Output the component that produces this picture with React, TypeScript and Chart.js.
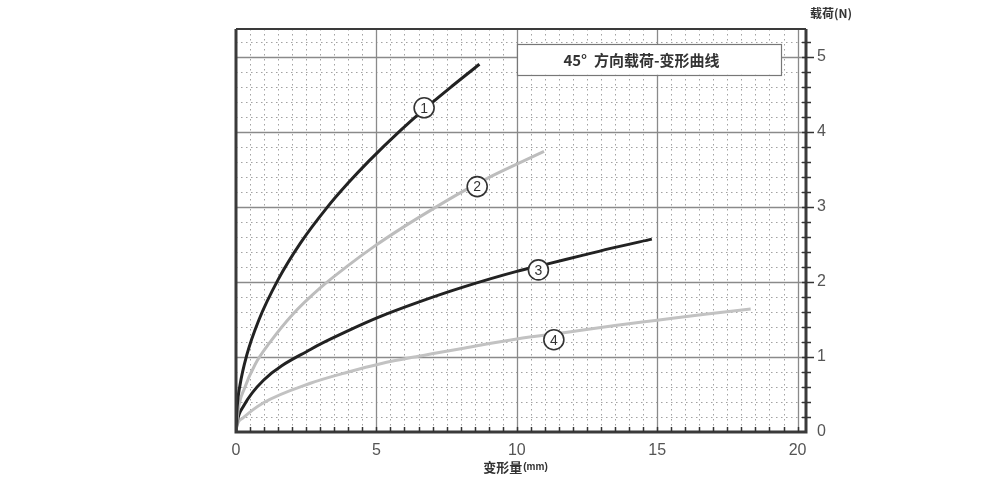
import React, { useEffect, useRef } from 'react';
import { Chart, registerables } from 'chart.js';

Chart.register(...registerables);

// ---- data ----
const curve1X = [0, 0.04, 0.14, 0.38, 0.8, 1.5, 2.3, 3.24, 4.0, 4.73, 5.86, 6.7, 7.7, 8.67];
const curve1Y = [0, 0.33, 0.62, 1.02, 1.48, 2.03, 2.52, 2.99, 3.32, 3.61, 4.02, 4.3, 4.61, 4.9];

const curve2X = [0, 0.08, 0.3, 0.68, 1.2, 2.0, 3.0, 4.0, 4.91, 6.0, 7.0, 8.0, 9.0, 10.0, 10.97];
const curve2Y = [0, 0.3, 0.58, 0.9, 1.19, 1.56, 1.92, 2.22, 2.47, 2.74, 2.97, 3.19, 3.39, 3.57, 3.74];

const curve3X = [0, 0.05, 0.26, 0.98, 2.65, 4.0, 5.15, 6.5, 8.0, 10.0, 11.0, 12.3, 13.5, 14.81];
const curve3Y = [0, 0.15, 0.34, 0.69, 1.1, 1.35, 1.54, 1.73, 1.92, 2.14, 2.23, 2.35, 2.46, 2.57];

const curve4X = [0, 0.03, 0.26, 0.98, 2.65, 4.0, 5.15, 6.5, 8.0, 10.0, 11.8, 13.5, 15.0, 16.7, 18.33];
const curve4Y = [0, 0.08, 0.19, 0.39, 0.65, 0.8, 0.91, 1.01, 1.11, 1.24, 1.33, 1.42, 1.49, 1.57, 1.64];

const markerLabels = ['1', '2', '3', '4'];
const markerX = [6.7, 8.59, 10.77, 11.32];
const markerY = [4.32, 3.27, 2.16, 1.23];

const xTickValues = [0, 5, 10, 15, 20];
const xTickLabels = ['0', '5', '10', '15', '20'];
const yTickValues = [0, 1, 2, 3, 4, 5];
const yTickLabels = ['0', '1', '2', '3', '4', '5'];

const xAxisTitleMain = '变形量';
const xAxisTitleUnit = '(mm)';
const yAxisTitle = '载荷(N)';
const chartTitle = '45°  方向载荷-变形曲线';

// title box corners in data units
const titleBoxX = [10.02, 19.43];
const titleBoxY = [5.17, 4.76];

const X_MAX = 20.3;
const Y_MAX = 5.37;
const X_MINOR = 0.5;
const Y_MINOR = 0.2;

const FONT = '"Liberation Sans", "Noto Sans CJK SC", sans-serif';
const CJK = '"Noto Sans CJK SC", "Liberation Sans", sans-serif';

const toPts = (xs: number[], ys: number[]) => xs.map((x, i) => ({ x, y: ys[i] }));

const snap = (v: number) => Math.round(v) + 0.5;

const paperPlugin = {
  id: 'paper',
  beforeDatasetsDraw(chart: any) {
    const { ctx, chartArea: a, scales } = chart;
    const x = scales.x;
    const y = scales.y;
    ctx.save();
    // minor dotted grid
    ctx.strokeStyle = 'rgba(70,70,70,0.5)';
    ctx.lineWidth = 1;
    ctx.setLineDash([1.5, 3.5]);
    const nx = Math.floor(X_MAX / X_MINOR + 1e-6);
    for (let i = 1; i <= nx; i++) {
      const v = i * X_MINOR;
      if (Math.abs(v / 5 - Math.round(v / 5)) < 1e-6) continue;
      const px = snap(x.getPixelForValue(v));
      ctx.beginPath();
      ctx.moveTo(px, a.top);
      ctx.lineTo(px, a.bottom);
      ctx.stroke();
    }
    const ny = Math.floor(Y_MAX / Y_MINOR + 1e-6);
    for (let i = 1; i <= ny; i++) {
      const v = i * Y_MINOR;
      if (Math.abs(v - Math.round(v)) < 1e-6) continue;
      const py = snap(y.getPixelForValue(v));
      ctx.beginPath();
      ctx.moveTo(a.left, py);
      ctx.lineTo(a.right, py);
      ctx.stroke();
    }
    // major solid grid
    ctx.setLineDash([]);
    ctx.strokeStyle = '#8a8a8a';
    ctx.lineWidth = 1.3;
    xTickValues.forEach((v) => {
      if (v === 0) return;
      const px = snap(x.getPixelForValue(v));
      ctx.beginPath();
      ctx.moveTo(px, a.top);
      ctx.lineTo(px, a.bottom);
      ctx.stroke();
    });
    yTickValues.forEach((v) => {
      if (v === 0) return;
      const py = snap(y.getPixelForValue(v));
      ctx.beginPath();
      ctx.moveTo(a.left, py);
      ctx.lineTo(a.right, py);
      ctx.stroke();
    });
    // title box
    const bx0 = x.getPixelForValue(titleBoxX[0]);
    const bx1 = x.getPixelForValue(titleBoxX[1]);
    const by0 = y.getPixelForValue(titleBoxY[0]);
    const by1 = y.getPixelForValue(titleBoxY[1]);
    ctx.fillStyle = '#ffffff';
    ctx.fillRect(bx0, by0, bx1 - bx0, by1 - by0);
    ctx.strokeStyle = '#777777';
    ctx.lineWidth = 1.2;
    ctx.strokeRect(snap(bx0), snap(by0), Math.round(bx1 - bx0), Math.round(by1 - by0));
    ctx.fillStyle = '#333333';
    ctx.font = `bold 15px ${CJK}`;
    ctx.textAlign = 'center';
    ctx.textBaseline = 'middle';
    ctx.fillText(chartTitle, (bx0 + bx1) / 2 - 8, (by0 + by1) / 2 + 1);
    ctx.restore();
  },
  afterDatasetsDraw(chart: any) {
    const { ctx, chartArea: a, scales } = chart;
    const x = scales.x;
    const y = scales.y;
    ctx.save();
    // frame
    ctx.strokeStyle = '#3a3a3a';
    ctx.lineWidth = 2;
    ctx.beginPath();
    ctx.moveTo(a.left, a.top);
    ctx.lineTo(a.right, a.top);
    ctx.stroke();
    ctx.lineWidth = 3;
    ctx.beginPath();
    ctx.moveTo(a.left, a.top);
    ctx.lineTo(a.left, a.bottom);
    ctx.lineTo(a.right, a.bottom);
    ctx.lineTo(a.right, a.top);
    ctx.stroke();
    // bottom ticks (inward)
    ctx.lineWidth = 1.5;
    ctx.strokeStyle = '#333';
    const nx = Math.floor(X_MAX / X_MINOR + 1e-6);
    for (let i = 1; i <= nx; i++) {
      const px = snap(x.getPixelForValue(i * X_MINOR));
      ctx.beginPath();
      ctx.moveTo(px, a.bottom);
      ctx.lineTo(px, a.bottom - 5);
      ctx.stroke();
    }
    // right ticks (crossing)
    const ny = Math.floor(Y_MAX / Y_MINOR + 1e-6);
    for (let i = 1; i <= ny; i++) {
      const v = i * Y_MINOR;
      const py = snap(y.getPixelForValue(v));
      const major = Math.abs(v - Math.round(v)) < 1e-6;
      ctx.beginPath();
      ctx.moveTo(a.right - 4, py);
      ctx.lineTo(a.right + (major ? 8 : 5), py);
      ctx.stroke();
    }
    // circled markers
    markerLabels.forEach((t, i) => {
      const cx = x.getPixelForValue(markerX[i]);
      const cy = y.getPixelForValue(markerY[i]);
      ctx.beginPath();
      ctx.arc(cx, cy, 10, 0, Math.PI * 2);
      ctx.fillStyle = '#ffffff';
      ctx.fill();
      ctx.lineWidth = 1.6;
      ctx.strokeStyle = '#333333';
      ctx.stroke();
      ctx.fillStyle = '#333333';
      ctx.font = `14px ${FONT}`;
      ctx.textAlign = 'center';
      ctx.textBaseline = 'middle';
      ctx.fillText(t, cx, cy + 1);
    });
    // axis titles
    ctx.fillStyle = '#333333';
    ctx.textBaseline = 'middle';
    ctx.font = `bold 13px ${CJK}`;
    const w1 = ctx.measureText(xAxisTitleMain).width;
    ctx.font = `bold 10px ${FONT}`;
    const w2 = ctx.measureText(xAxisTitleUnit).width;
    const startX = 515 - (w1 + w2) / 2;
    ctx.textAlign = 'left';
    ctx.font = `bold 13px ${CJK}`;
    ctx.fillText(xAxisTitleMain, startX, 467);
    ctx.font = `bold 10px ${FONT}`;
    ctx.fillText(xAxisTitleUnit, startX + w1 + 1, 467);
    ctx.font = `bold 12px ${CJK}`;
    ctx.textAlign = 'center';
    ctx.fillText(yAxisTitle, a.right + 25, 13);
    ctx.restore();
  },
};

export default function App() {
  const ref = useRef<HTMLCanvasElement | null>(null);
  useEffect(() => {
    if (!ref.current) return;
    const chart = new Chart(ref.current, {
      type: 'line',
      data: {
        datasets: [
          { data: toPts(curve1X, curve1Y), borderColor: '#222222', borderWidth: 3 },
          { data: toPts(curve2X, curve2Y), borderColor: '#bdbdbd', borderWidth: 3 },
          { data: toPts(curve3X, curve3Y), borderColor: '#222222', borderWidth: 3 },
          { data: toPts(curve4X, curve4Y), borderColor: '#c2c2c2', borderWidth: 3 },
        ].map((d) => ({ ...d, pointRadius: 0, cubicInterpolationMode: 'monotone' as const, fill: false })),
      },
      options: {
        responsive: false,
        animation: false,
        layout: { padding: { left: 236, top: 29, right: 0, bottom: 0 } },
        plugins: { legend: { display: false }, tooltip: { enabled: false }, title: { display: false } },
        scales: {
          x: {
            type: 'linear',
            min: 0,
            max: X_MAX,
            grid: { display: false, drawTicks: false },
            border: { display: false },
            afterBuildTicks: (s: any) => {
              s.ticks = xTickValues.map((v) => ({ value: v }));
            },
            afterFit: (s: any) => {
              s.height = 48;
            },
            ticks: {
              padding: 9,
              color: '#555555',
              font: { family: FONT, size: 16 },
              maxRotation: 0,
              autoSkip: false,
              callback: (_v: any, i: number) => xTickLabels[i],
            },
          },
          y: {
            type: 'linear',
            position: 'right',
            min: 0,
            max: Y_MAX,
            grid: { display: false, drawTicks: false },
            border: { display: false },
            afterBuildTicks: (s: any) => {
              s.ticks = yTickValues.map((v) => ({ value: v }));
            },
            afterFit: (s: any) => {
              s.width = 194;
            },
            ticks: {
              padding: 11,
              color: '#555555',
              font: { family: FONT, size: 16 },
              autoSkip: false,
              callback: (_v: any, i: number) => yTickLabels[i],
            },
          },
        },
      },
      plugins: [paperPlugin],
    });
    return () => chart.destroy();
  }, []);
  return (
    <div style={{ position: 'fixed', left: 0, top: 0, width: 1000, height: 480, background: '#ffffff' }}>
      <canvas ref={ref} width={1000} height={480} style={{ display: 'block' }} />
    </div>
  );
}
